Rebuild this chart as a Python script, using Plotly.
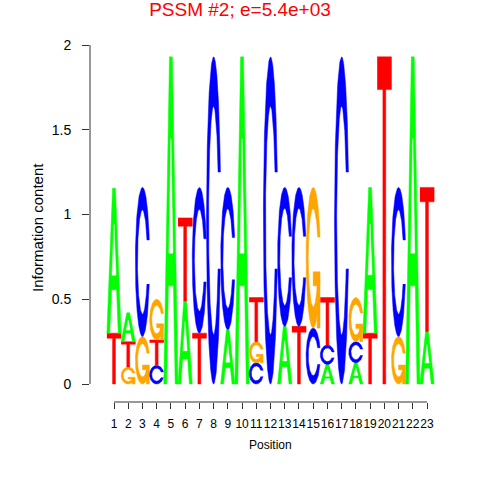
import numpy as np
import plotly.graph_objects as go

# ---------------- data ----------------
positions = list(range(1, 24))
tick_labels = [str(p) for p in positions]
A_h = [0.855, 0.17, 0, 0, 1.93, 0.49, 0, 0, 0.32, 1.93, 0, 0, 0.34, 0, 0, 0.115, 0, 0.125, 0.86, 0, 0, 1.93, 0.31]
C_h = [0, 0, 0.88, 0.11, 0, 0, 0.86, 1.93, 0.84, 0, 0.125, 1.93, 0.82, 0.82, 0.33, 0.115, 1.93, 0.125, 0, 0, 0.88, 0, 0]
G_h = [0, 0.10, 0.28, 0.24, 0, 0, 0, 0, 0, 0, 0.125, 0, 0, 0, 0.83, 0, 0, 0.26, 0, 0, 0.28, 0, 0]
T_h = [0.30, 0.15, 0, 0.15, 0, 0.49, 0.30, 0, 0, 0, 0.26, 0, 0, 0.34, 0, 0.28, 0, 0, 0.30, 1.93, 0, 0, 0.85]
letters = ["A", "C", "G", "T"]
heights = {"A": A_h, "C": C_h, "G": G_h, "T": T_h}
colors = {"A": "#00FF00", "C": "#0000FF", "G": "#FFA500", "T": "#FF0000"}
title_text = "PSSM #2; e=5.4e+03"

# ---------------- glyph templates (unit box) ----------------
def glyph_A():
    x = np.array([0, 4, 6, 10, 8, 6.8, 3.2, 2, 0]) * 0.1
    y = np.array([0, 10, 10, 0, 0, 3, 3, 0, 0]) * 0.1
    hx = np.array([3.6, 5, 6.4, 3.6]) * 0.1
    hy = np.array([4, 7.5, 4, 4]) * 0.1
    return [(x, y, None), (hx, hy, "white")]

def ring():
    a1 = np.linspace(0.3 + np.pi / 2, np.pi, 100)
    a2 = np.linspace(np.pi, 1.5 * np.pi, 100)
    xl = np.concatenate([0.5 + 0.5 * np.sin(a1), 0.5 + 0.5 * np.sin(a2)])
    yl1 = 0.5 + 0.5 * np.cos(a1)
    yl = np.concatenate([yl1, 0.5 + 0.5 * np.cos(a2)])
    x = np.concatenate([xl, xl[::-1]])
    y = np.concatenate([yl, 1 - yl[::-1]])
    xi1 = 0.5 + 0.35 * np.sin(a1)
    yi1 = 0.5 + 0.35 * np.cos(a1)
    m = yi1 <= yl1.max()
    xi1 = xi1[m]
    yi1 = yi1[m]
    yi1[0] = yl1.max()
    xi = np.concatenate([xi1, 0.5 + 0.35 * np.sin(a2)])
    yi = np.concatenate([yi1, 0.5 + 0.35 * np.cos(a2)])
    x1 = np.concatenate([xi, xi[::-1]])
    y1 = np.concatenate([yi, 1 - yi[::-1]])
    return np.concatenate([x, x1[::-1]]), np.concatenate([y, y1[::-1]]), (0.5 + 0.5 * np.sin(a1)).max()

def glyph_C():
    x, y, _ = ring()
    return [(x, y, None)]

def glyph_G():
    x, y, r1 = ring()
    h1 = 0.4
    xa = np.array([r1, 0.5, 0.5, r1 - 0.2, r1 - 0.2, r1, r1])
    ya = np.array([h1, h1, h1 - 0.1, h1 - 0.1, 0, 0, h1])
    return [(x, y, None), (xa, ya, None)]

def glyph_T():
    x = np.array([0, 10, 10, 6, 6, 4, 4, 0]) * 0.1
    y = np.array([10, 10, 9, 9, 0, 0, 9, 9]) * 0.1
    return [(x, y, None)]

glyphs = {"A": glyph_A(), "C": glyph_C(), "G": glyph_G(), "T": glyph_T()}

fig = go.Figure()
for i, pos in enumerate(positions):
    order = sorted(letters, key=lambda L: heights[L][i])
    base = 0.0
    for L in order:
        h = heights[L][i]
        if h <= 0:
            continue
        for gx, gy, fc in glyphs[L]:
            col = fc if fc else colors[L]
            fig.add_trace(go.Scatter(
                x=(pos - 0.5) + gx, y=base + h * gy, mode="lines",
                fill="toself", fillcolor=col, line=dict(color=col, width=0.5),
                hoverinfo="skip", showlegend=False))
        base += h

W, H = 480, 480
L_PX, R_PX, T_PX, B_PX = 90, 440, 45, 402
ppx = (427 - 114) / 22.0
ppy = (384 - 45) / 2.0
xr = [1 - (114 - L_PX) / ppx, 23 + (R_PX - 427) / ppx]
yr = [0 - (B_PX - 384) / ppy, 2 + (45 - T_PX) / ppy]

def px_to_paper_x(px):
    return (px - L_PX) / (R_PX - L_PX)

def px_to_paper_y(py):
    return (B_PX - py) / (B_PX - T_PX)

fig.update_layout(
    width=W, height=H,
    margin=dict(l=L_PX, r=W - R_PX, t=T_PX, b=H - B_PX, pad=0),
    paper_bgcolor="white", plot_bgcolor="white",
    font=dict(family="Liberation Sans, Arial, sans-serif", color="black"),
    title=dict(text=title_text, x=0.5, xanchor="center", y=1 - 9.5 / H, yanchor="middle",
               yref="container", font=dict(size=19, color="#FF0000")),
    xaxis=dict(range=xr, showgrid=False, zeroline=False, showline=False,
               tickmode="array", tickvals=positions, ticktext=tick_labels, tickangle=0,
               ticks="outside", ticklen=6, tickcolor="#333", tickwidth=1,
               tickfont=dict(size=12), ticklabelstandoff=5),
    yaxis=dict(range=yr, showgrid=False, zeroline=False, showline=False,
               tickmode="array", tickvals=[0, 0.5, 1, 1.5, 2], ticktext=["0", "0.5", "1", "1.5", "2"],
               ticks="outside", ticklen=7, tickcolor="#333", tickwidth=1,
               tickfont=dict(size=14), ticklabelstandoff=8),
    shapes=[
        dict(type="line", xref="paper", yref="y", x0=0, x1=0, y0=0, y1=2,
             line=dict(color="#333", width=1)),
        dict(type="line", xref="x", yref="paper", x0=1, x1=23, y0=0, y1=0,
             line=dict(color="#333", width=1)),
    ],
    annotations=[
        dict(text="Position", xref="paper", yref="paper",
             x=px_to_paper_x(270), y=px_to_paper_y(445),
             showarrow=False, font=dict(size=12), xanchor="center", yanchor="middle"),
        dict(text="Information content", xref="paper", yref="paper",
             x=px_to_paper_x(38), y=px_to_paper_y(228), textangle=-90,
             showarrow=False, font=dict(size=15), xanchor="center", yanchor="middle"),
    ],
)

fig.write_html("out.html", post_script="document.body.style.margin='0px';",
               config={"displayModeBar": False})
